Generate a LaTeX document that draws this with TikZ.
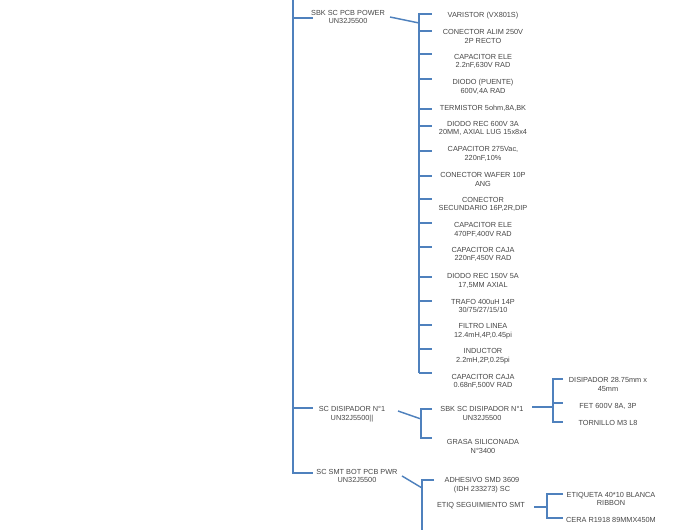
\documentclass[tikz,border=0pt]{standalone}
\usepackage{fontspec}
\setmainfont{Liberation Sans}
\definecolor{orgblue}{RGB}{79,129,189}
\definecolor{orgtext}{RGB}{70,70,70}

\begin{document}
\begin{tikzpicture}[x=0.75pt, y=-0.75pt,
		every node/.style={align=center, inner sep=0pt, text=orgtext, font=\fontsize{5.5}{6.5}\selectfont},
		link/.style={draw=orgblue, line width=1.1pt}]
		\useasboundingbox (0,0) rectangle (683,530);

		% left trunk
		\coordinate (top) at (293,0);
		\coordinate (pcbin) at (313,18);
		\coordinate (disiin) at (313,408);
		\coordinate (smtin) at (313,473);
		\draw[link] (top) |- (smtin);
		\draw[link] (top |- pcbin) -- (pcbin);
		\draw[link] (top |- disiin) -- (disiin);

		\node (pcb) at (348,17) {SBK SC PCB POWER\\UN32J5500};
		\node (disi) at (352,414) {SC DISIPADOR N°1\\UN32J5500||};
		\node (smt) at (357,476) {SC SMT BOT PCB PWR\\UN32J5500};

		% SBK SC PCB POWER
		\coordinate (pcbout) at (390,17);
		\coordinate (ja) at (419,13);
		\coordinate (jb) at (419,373);
		\draw[link] (ja) -- (jb);
		\draw[link] (pcbout) -- (ja |- 0,23);

		\node (var) at (483,15.5) {VARISTOR (VX801S)};
		\node (conalim) at (483,36.5) {CONECTOR ALIM 250V\\2P RECTO};
		\node (capele) at (483,61.5) {CAPACITOR ELE\\2.2nF,630V RAD};
		\node (puente) at (483,86.5) {DIODO (PUENTE)\\600V,4A RAD};
		\node (termis) at (483,108.5) {TERMISTOR 5ohm,8A,BK};
		\node (diorec) at (483,128.5) {DIODO REC 600V 3A\\20MM, AXIAL LUG 15x8x4};
		\node (cap275) at (483,154) {CAPACITOR 275Vac,\\220nF,10\%};
		\node (wafer) at (483,179.5) {CONECTOR WAFER 10P\\ANG};
		\node (secund) at (483,204.5) {CONECTOR\\SECUNDARIO 16P,2R,DIP};
		\node (cap470) at (483,230) {CAPACITOR ELE\\470PF,400V RAD};
		\node (caja220) at (483,254.5) {CAPACITOR CAJA\\220nF,450V RAD};
		\node (dio150) at (483,281) {DIODO REC 150V 5A\\17,5MM AXIAL};
		\node (trafo) at (483,306) {TRAFO 400uH 14P\\30/75/27/15/10};
		\node (filtro) at (483,331) {FILTRO LINEA\\12.4mH,4P,0.45pi};
		\node (induc) at (483,356) {INDUCTOR\\2.2mH,2P,0.25pi};
		\node (caja068) at (483,381.5) {CAPACITOR CAJA\\0.68nF,500V RAD};

		\coordinate (varin) at (432,14);
		\coordinate (conalimin) at (432,31);
		\coordinate (capelein) at (432,54);
		\coordinate (puentein) at (432,79);
		\coordinate (termisin) at (432,109);
		\coordinate (diorecin) at (432,126);
		\coordinate (cap275in) at (432,151);
		\coordinate (waferin) at (432,176);
		\coordinate (secundin) at (432,199);
		\coordinate (cap470in) at (432,223);
		\coordinate (caja220in) at (432,247);
		\coordinate (dio150in) at (432,277);
		\coordinate (trafoin) at (432,301);
		\coordinate (filtroin) at (432,325);
		\coordinate (inducin) at (432,349);
		\coordinate (caja068in) at (432,373);
		\draw[link] (ja |- varin) -- (varin);
		\draw[link] (ja |- conalimin) -- (conalimin);
		\draw[link] (ja |- capelein) -- (capelein);
		\draw[link] (ja |- puentein) -- (puentein);
		\draw[link] (ja |- termisin) -- (termisin);
		\draw[link] (ja |- diorecin) -- (diorecin);
		\draw[link] (ja |- cap275in) -- (cap275in);
		\draw[link] (ja |- waferin) -- (waferin);
		\draw[link] (ja |- secundin) -- (secundin);
		\draw[link] (ja |- cap470in) -- (cap470in);
		\draw[link] (ja |- caja220in) -- (caja220in);
		\draw[link] (ja |- dio150in) -- (dio150in);
		\draw[link] (ja |- trafoin) -- (trafoin);
		\draw[link] (ja |- filtroin) -- (filtroin);
		\draw[link] (ja |- inducin) -- (inducin);
		\draw[link] (ja |- caja068in) -- (caja068in);

		% SC DISIPADOR
		\coordinate (disiout) at (398,411);
		\coordinate (jc) at (421,409);
		\coordinate (sbkdisiin) at (432,409);
		\coordinate (grasain) at (432,438);
		\draw[link] (disiout) -- (jc |- 0,419);
		\draw[link] (sbkdisiin) -| (jc |- grasain) -- (grasain);
		\node (sbkdisi) at (482,413.5) {SBK SC DISIPADOR N°1\\UN32J5500};
		\node (grasa) at (483,446.5) {GRASA SILICONADA\\N°3400};

		\coordinate (sbkdisiout) at (532,407);
		\coordinate (jd) at (553,407);
		\coordinate (disipin) at (563,379);
		\coordinate (fetin) at (563,403);
		\coordinate (tornilloin) at (563,422);
		\draw[link] (sbkdisiout) -- (jd);
		\draw[link] (disipin) -| (jd |- tornilloin) -- (tornilloin);
		\draw[link] (jd |- fetin) -- (fetin);
		\node (disip) at (608,384.5) {DISIPADOR 28.75mm x\\45mm};
		\node (fet) at (608,406) {FET 600V 8A, 3P};
		\node (tornillo) at (608,422.5) {TORNILLO M3 L8};

		% SC SMT BOT PCB PWR
		\coordinate (smtout) at (402,476);
		\coordinate (je) at (422,480);
		\coordinate (adhesin) at (434,480);
		\draw[link] (smtout) -- (je |- 0,488);
		\draw[link] (adhesin) -| (je |- 0,532);
		\node (adhes) at (482,485) {ADHESIVO SMD 3609\\(IDH 233273) SC};
		\node (etiq) at (481,506) {ETIQ SEGUIMIENTO SMT};

		\coordinate (etiqout) at (534,507);
		\coordinate (jf) at (547,507);
		\coordinate (etiquetain) at (563,494);
		\coordinate (cerain) at (563,518);
		\draw[link] (etiqout) -- (jf);
		\draw[link] (etiquetain) -| (jf |- cerain) -- (cerain);
		\node (etiqueta) at (611,499) {ETIQUETA 40*10 BLANCA\\RIBBON};
		\node (cera) at (611,520) {CERA R1918 89MMX450M};
	\end{tikzpicture}
\end{document}
